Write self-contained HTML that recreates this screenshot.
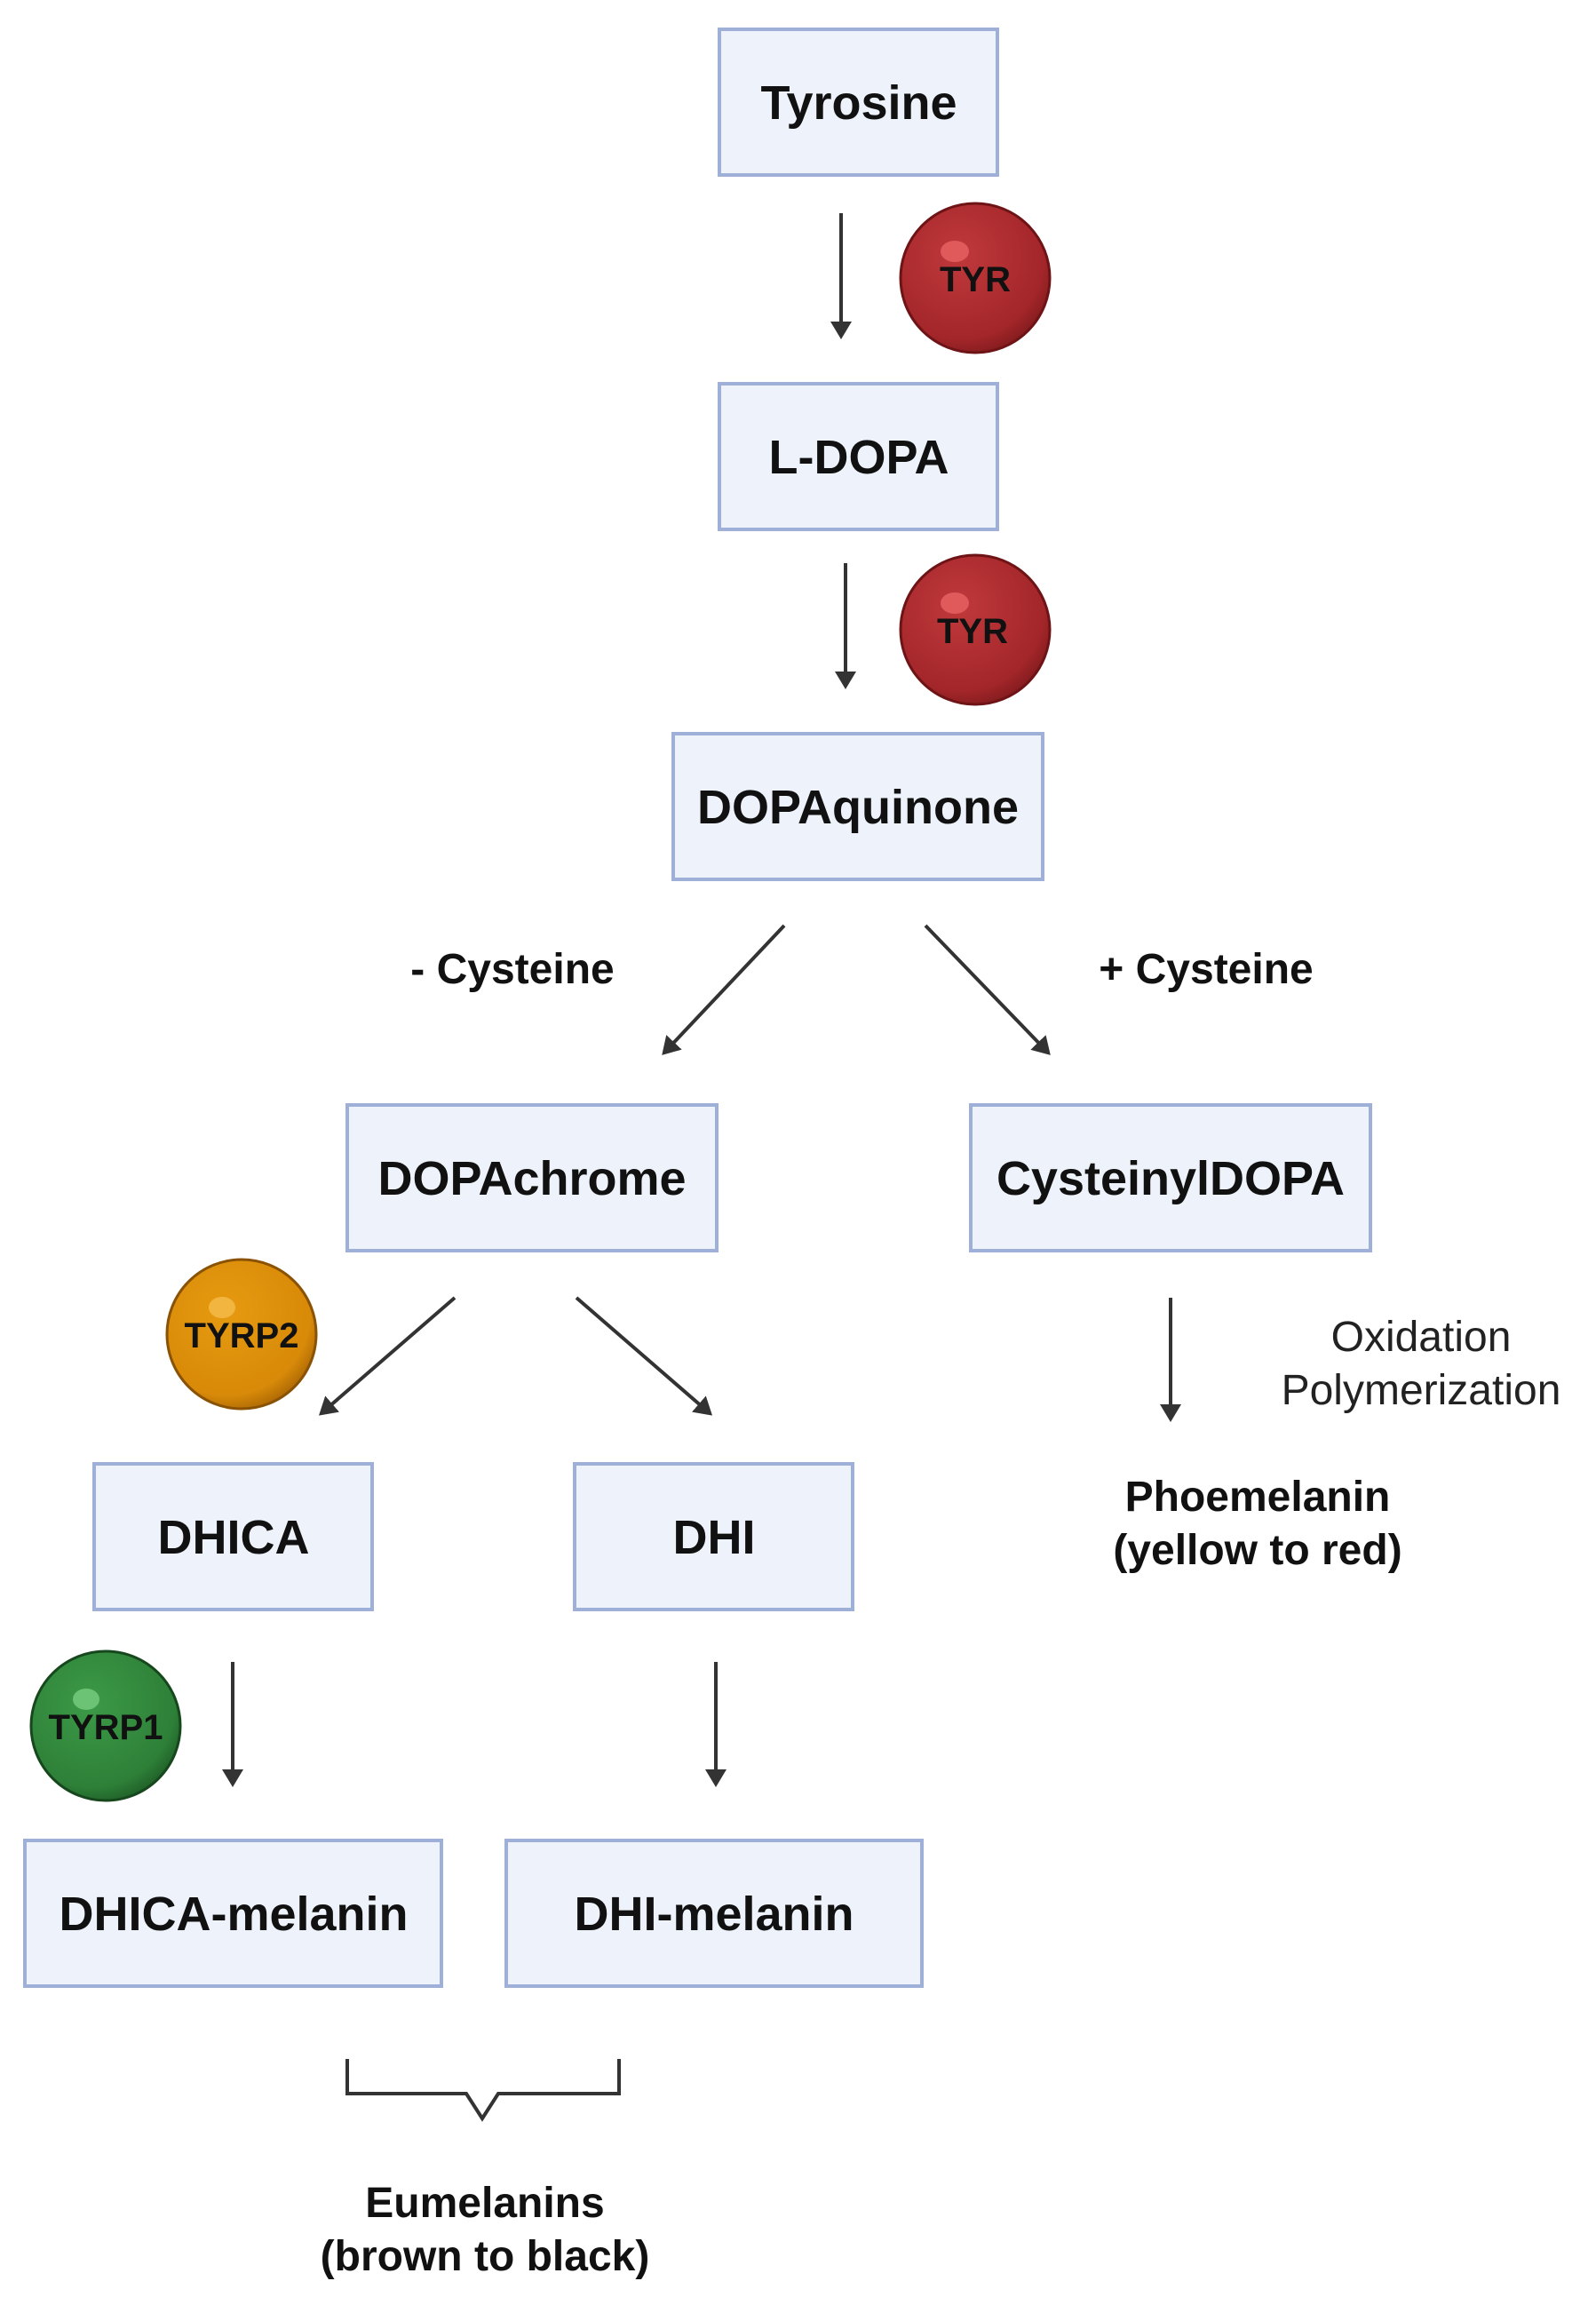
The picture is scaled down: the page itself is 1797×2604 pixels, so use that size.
<!DOCTYPE html>
<html><head><style>
html,body{margin:0;padding:0;background:#fff;}
svg{display:block;}
text{font-family:"Liberation Sans",sans-serif;}
.b{font-weight:bold;font-size:54px;fill:#111;text-anchor:middle;}
.l{font-weight:bold;font-size:48px;fill:#111;text-anchor:middle;}
.n{font-size:48px;fill:#222;text-anchor:middle;}
.e{font-weight:bold;font-size:40px;fill:#111;text-anchor:middle;}
rect.bx{fill:#eef3fb;stroke:#9fb0d8;stroke-width:4;}
line{stroke:#333;stroke-width:4;}
</style></head><body>
<svg width="1797" height="2604" viewBox="0 0 1797 2604" xmlns="http://www.w3.org/2000/svg">
<defs>
<marker id="a" markerWidth="6" markerHeight="6" refX="4" refY="3" orient="auto" markerUnits="strokeWidth">
<path d="M0,0 L5,3 L0,6 Z" fill="#333"/></marker>
<radialGradient id="gr" cx="0.4" cy="0.35" r="0.7"><stop offset="0" stop-color="#c0393b"/><stop offset="0.8" stop-color="#a3262a"/><stop offset="1" stop-color="#7f1a1c"/></radialGradient>
<radialGradient id="go" cx="0.4" cy="0.35" r="0.7"><stop offset="0" stop-color="#e69a10"/><stop offset="0.8" stop-color="#d88a08"/><stop offset="1" stop-color="#a86405"/></radialGradient>
<radialGradient id="gg" cx="0.4" cy="0.35" r="0.7"><stop offset="0" stop-color="#3c9a47"/><stop offset="0.8" stop-color="#2e8038"/><stop offset="1" stop-color="#1e5c26"/></radialGradient>
</defs>

<rect class="bx" x="810" y="33" width="313" height="164"/>
<text class="b" x="967" y="134">Tyrosine</text>
<line x1="947" y1="240" x2="947" y2="378" marker-end="url(#a)"/>
<circle cx="1098" cy="313" r="84" fill="url(#gr)" stroke="#6e1416" stroke-width="3"/>
<ellipse cx="1075" cy="283" rx="16" ry="12" fill="#e05a5c"/>
<text class="e" x="1098" y="328">TYR</text>

<rect class="bx" x="810" y="432" width="313" height="164"/>
<text class="b" x="967" y="533">L-DOPA</text>
<line x1="952" y1="634" x2="952" y2="772" marker-end="url(#a)"/>
<circle cx="1098" cy="709" r="84" fill="url(#gr)" stroke="#6e1416" stroke-width="3"/>
<ellipse cx="1075" cy="679" rx="16" ry="12" fill="#e05a5c"/>
<text class="e" x="1095" y="724">TYR</text>

<rect class="bx" x="758" y="826" width="416" height="164"/>
<text class="b" x="966" y="927">DOPAquinone</text>

<line x1="883" y1="1042" x2="748" y2="1185" marker-end="url(#a)"/>
<line x1="1042" y1="1042" x2="1180" y2="1185" marker-end="url(#a)"/>
<text class="l" x="577" y="1107">- Cysteine</text>
<text class="l" x="1358" y="1107">+ Cysteine</text>

<rect class="bx" x="391" y="1244" width="416" height="164"/>
<text class="b" x="599" y="1345">DOPAchrome</text>
<rect class="bx" x="1093" y="1244" width="450" height="164"/>
<text class="b" x="1318" y="1345">CysteinylDOPA</text>

<circle cx="272" cy="1502" r="84" fill="url(#go)" stroke="#8a5204" stroke-width="3"/>
<ellipse cx="250" cy="1472" rx="15" ry="12" fill="#f2b640"/>
<text class="e" x="272" y="1517">TYRP2</text>

<line x1="512" y1="1461" x2="362" y2="1591" marker-end="url(#a)"/>
<line x1="649" y1="1461" x2="799" y2="1591" marker-end="url(#a)"/>

<line x1="1318" y1="1461" x2="1318" y2="1597" marker-end="url(#a)"/>
<text class="n" x="1600" y="1521">Oxidation</text>
<text class="n" x="1600" y="1581">Polymerization</text>
<text class="l" x="1416" y="1701">Phoemelanin</text>
<text class="l" x="1416" y="1761">(yellow to red)</text>

<rect class="bx" x="106" y="1648" width="313" height="164"/>
<text class="b" x="263" y="1749">DHICA</text>
<rect class="bx" x="647" y="1648" width="313" height="164"/>
<text class="b" x="804" y="1749">DHI</text>

<circle cx="119" cy="1943" r="84" fill="url(#gg)" stroke="#17481d" stroke-width="3"/>
<ellipse cx="97" cy="1913" rx="15" ry="12" fill="#6cc275"/>
<text class="e" x="119" y="1958">TYRP1</text>

<line x1="262" y1="1871" x2="262" y2="2008" marker-end="url(#a)"/>
<line x1="806" y1="1871" x2="806" y2="2008" marker-end="url(#a)"/>

<rect class="bx" x="28" y="2072" width="469" height="164"/>
<text class="b" x="263" y="2173">DHICA-melanin</text>
<rect class="bx" x="570" y="2072" width="468" height="164"/>
<text class="b" x="804" y="2173">DHI-melanin</text>

<path d="M391,2318 V2357 H525 L543,2385 L561,2357 H697 V2318" fill="none" stroke="#333" stroke-width="4"/>
<text class="l" x="546" y="2496">Eumelanins</text>
<text class="l" x="546" y="2556">(brown to black)</text>
</svg>
</body></html>
